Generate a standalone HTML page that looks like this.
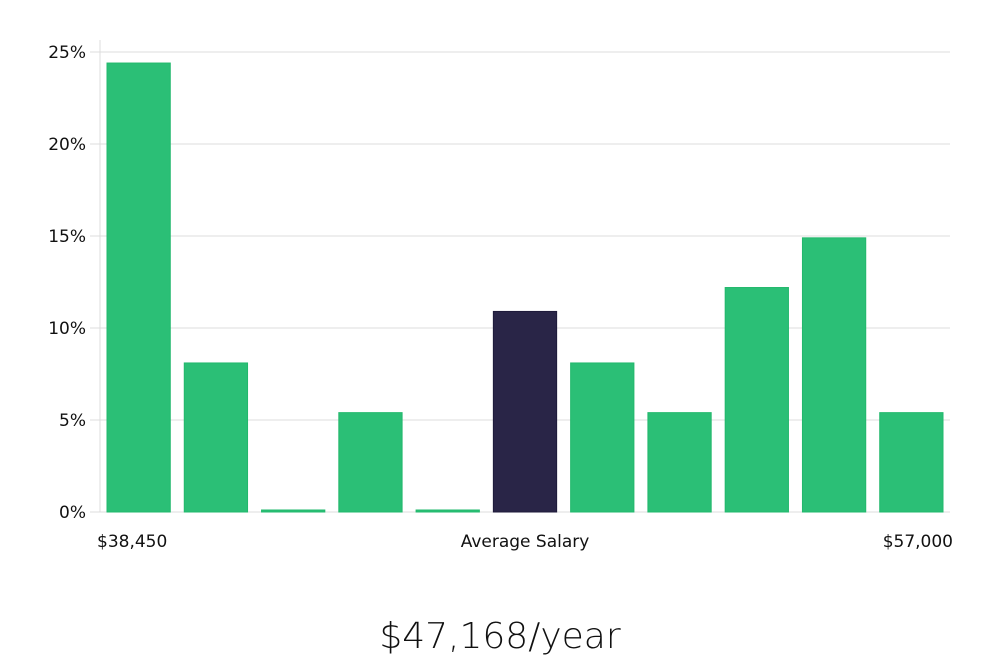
<!DOCTYPE html>
<html><head><meta charset="utf-8"><style>
body{margin:0;background:#fff;width:1000px;height:660px;overflow:hidden;font-family:"DejaVu Sans","Liberation Sans",sans-serif}
</style></head><body>
<svg width="1000" height="660" viewBox="0 0 1000 660">
<g id="grid"></g><g id="bars"></g><g id="labels"></g>
<text x="500" y="648" text-anchor="middle" font-size="36" font-family="'DejaVu Sans','Liberation Sans',sans-serif" font-weight="300" fill="#111">$47,168/year</text>
</svg>
<script>
const categories=["b1","b2","b3","b4","b5","b6","b7","b8","b9","b10","b11"];
const values=[24.4,8.1,0,5.4,0,10.9,8.1,5.4,12.2,14.9,5.4];
const highlight=[0,0,0,0,0,1,0,0,0,0,0];
const yTicks=[0,5,10,15,20,25];
const xLabels=["$38,450","Average Salary","$57,000"];
const ns="http://www.w3.org/2000/svg";
const X0=100,X1=950,Y0=512,Ytop=52;
const y=v=>Y0-(v/25)*(Y0-Ytop);
const slot=(X1-X0)/categories.length;
function mk(t,a,p){const e=document.createElementNS(ns,t);for(const k in a)e.setAttribute(k,a[k]);p.appendChild(e);return e;}
const grid=document.getElementById('grid'),bars=document.getElementById('bars'),lab=document.getElementById('labels');
yTicks.forEach(t=>{
 const l=mk('line',{x1:90,x2:X1,y1:y(t),y2:y(t),stroke:'#dcdcdc','stroke-width':1},grid);
 
 
 const tx=mk('text',{x:86,y:y(t)+6,'text-anchor':'end','font-size':17,fill:'#111'},lab);
 tx.textContent=t+'%';
 
 
});
const ax=mk('line',{x1:X0,x2:X0,y1:40,y2:Y0,stroke:'#dcdcdc','stroke-width':1},grid);


values.forEach((v,i)=>{
 const x=X0+i*slot+7,w=slot-14;
 const top=Math.min(y(v),Y0-2);
 const r=mk('rect',{x:x,y:top,width:w,height:Y0-top,fill:highlight[i]?'#292547':'#2bbf76',stroke:highlight[i]?'#1e1a3a':'#22b86c','stroke-width':1},bars);
 
 
});
const pos=[[97,'start'],[525,'middle'],[953,'end']];
xLabels.forEach((s,i)=>{
 const t=mk('text',{x:pos[i][0],y:547,'text-anchor':pos[i][1],'font-size':17,fill:'#111'},lab);
 t.textContent=s;
 
 
});
</script>
</body></html>
